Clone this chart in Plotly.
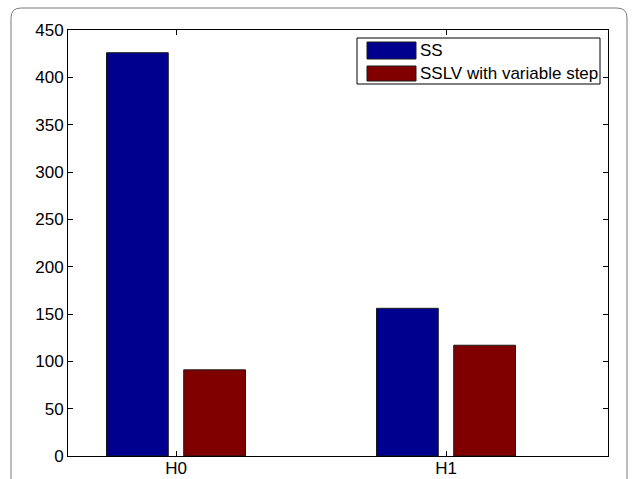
import plotly.graph_objects as go

# Data
categories = ["H0", "H1"]
series_names = ["SS", "SSLV with variable step"]
ss_values = [426, 156]
sslv_values = [91, 117]
y_ticks = [0, 50, 100, 150, 200, 250, 300, 350, 400, 450]

colors = ["#00008F", "#800000"]

W, H = 635, 479
L, R, T, B = 68, 608, 30, 456  # plot area in pixels
FONT = "Liberation Sans, Arial, Helvetica, sans-serif"
FS = 17


def px_x(x):
    return (x - L) / (R - L)


def px_y(y):
    return (B - y) / (B - T)


fig = go.Figure()
for name, vals, col in zip(series_names, [ss_values, sslv_values], colors):
    fig.add_trace(go.Bar(
        x=categories, y=vals, name=name,
        marker=dict(color=col, line=dict(color="#1a1a1a", width=1)),
        showlegend=False,
    ))

shapes = []
annotations = []

# Outer rounded frame
r = 10
x0, x1, y0, y1 = 11, 627, 8, 500
rx, ry = r / (R - L), r / (B - T)
X0, X1, Y0, Y1 = px_x(x0), px_x(x1), px_y(y1), px_y(y0)
path = (f"M {X0} {Y0} L {X0} {Y1 - ry} Q {X0} {Y1} {X0 + rx} {Y1} "
        f"L {X1 - rx} {Y1} Q {X1} {Y1} {X1} {Y1 - ry} L {X1} {Y0}")
shapes.append(dict(type="path", path=path, xref="paper", yref="paper",
                   line=dict(color="#7a7a7a", width=1), layer="below"))

# Legend box
shapes.append(dict(type="rect", xref="paper", yref="paper",
                   x0=px_x(357), x1=px_x(600), y0=px_y(84), y1=px_y(38),
                   line=dict(color="black", width=1), fillcolor="white"))
rows = [(42, 59), (66, 81)]
for (ya, yb), name, col in zip(rows, series_names, colors):
    shapes.append(dict(type="rect", xref="paper", yref="paper",
                       x0=px_x(367), x1=px_x(416), y0=px_y(yb), y1=px_y(ya),
                       line=dict(color="#1a1a1a", width=1), fillcolor=col))
    annotations.append(dict(text=name, xref="paper", yref="paper",
                            x=px_x(418), y=px_y((ya + yb) / 2),
                            xanchor="left", yanchor="middle", showarrow=False,
                            font=dict(family=FONT, size=FS, color="black")))

fig.update_layout(
    width=W, height=H,
    margin=dict(l=L, r=W - R, t=T, b=H - B, pad=0, autoexpand=False),
    paper_bgcolor="white", plot_bgcolor="white",
    barmode="group", bargap=0.428, bargroupgap=0.2,
    font=dict(family=FONT, size=FS, color="black"),
    shapes=shapes, annotations=annotations,
    showlegend=False,
)
fig.update_xaxes(
    type="category", range=[-0.4, 1.6], automargin=False,
    showline=True, linecolor="black", linewidth=1, mirror="ticks",
    ticks="inside", ticklen=5, tickcolor="black", ticklabelstandoff=-3,
    showgrid=False, zeroline=False,
)
fig.update_yaxes(
    range=[0, 450], tickvals=y_ticks, automargin=False,
    showline=True, linecolor="black", linewidth=1, mirror="ticks",
    ticks="inside", ticklen=5, tickcolor="black",
    showgrid=False, zeroline=False,
)

fig.write_html("out.html")
